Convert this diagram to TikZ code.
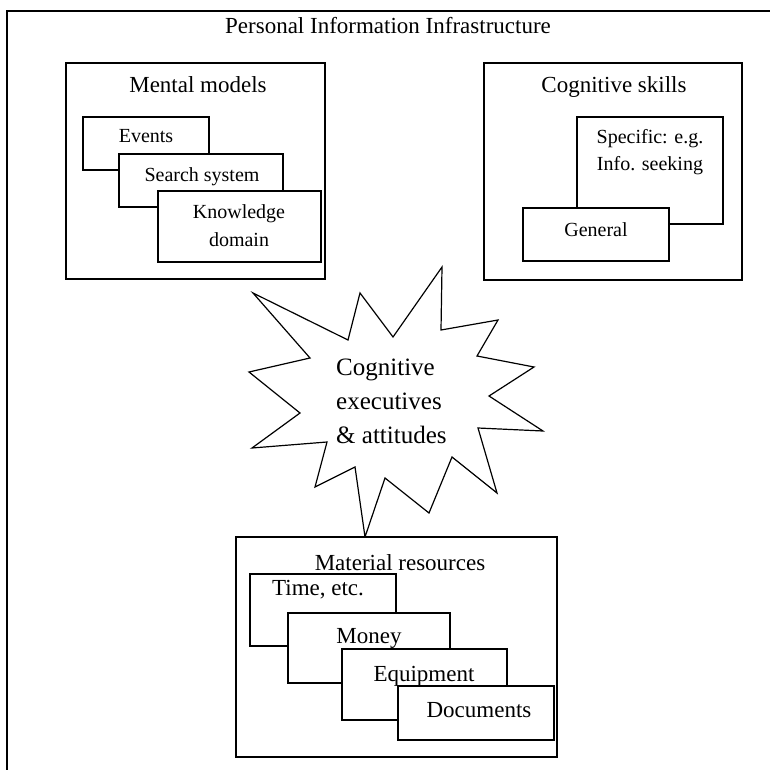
\documentclass[tikz,border=0pt]{standalone}
\usepackage{fontspec}
\setmainfont{Liberation Serif}

\tikzset{
  box/.style={draw, line width=1.3pt, fill=white},
  head/.style={anchor=base, font=\fontsize{23}{28}\selectfont},
  small/.style={anchor=base, font=\fontsize{20}{24}\selectfont},
  burst/.style={anchor=base west, font=\fontsize{25}{30}\selectfont},
}

\begin{document}
\begin{tikzpicture}[x=1pt, y=-1pt, inner sep=0pt]
\useasboundingbox (0,0) rectangle (770,770);

% outer frame
\draw[line width=1.3pt] (770,11) -- (7,11) -- (7,770);
\node[head] (title) at (388,34) {Personal Information Infrastructure};

% mental models
\draw[box] (66,63) rectangle (325,279);
\node[head] (mental) at (198,93) {Mental models};
\draw[box] (83,117) rectangle (209,170);
\node[small] (events) at (146,143) {Events};
\draw[box] (119,154) rectangle (283,207);
\node[small] (search) at (202,182) {Search system};
\draw[box] (158,191) rectangle (321,262);
\node[small] (know1) at (239,218) {Knowledge};
\node[small] (know2) at (239,246) {domain};

% cognitive skills
\draw[box] (484,63) rectangle (742,280);
\node[head] (skills) at (614,93) {Cognitive skills};
\draw[box] (577,117) rectangle (723,224);
\node[small] (spec1) at (650,144) {Specific: e.g.};
\node[small] (spec2) at (650,171) {Info. seeking};
\draw[box] (523,208) rectangle (669,261);
\node[small] (general) at (596,236) {General};

% star
\coordinate (s1) at (253,293);
\coordinate (s2) at (348,340);
\coordinate (s3) at (360,293);
\coordinate (s4) at (393,337);
\coordinate (s5) at (442,267);
\coordinate (s6) at (441,330);
\coordinate (s7) at (498,320);
\coordinate (s8) at (477,356);
\coordinate (s9) at (534,367);
\coordinate (s10) at (489,396);
\coordinate (s11) at (543,431);
\coordinate (s12) at (478,428);
\coordinate (s13) at (497,493);
\coordinate (s14) at (452,457);
\coordinate (s15) at (429,513);
\coordinate (s16) at (385,478);
\coordinate (s17) at (365,537);
\coordinate (s18) at (355,467);
\coordinate (s19) at (315,487);
\coordinate (s20) at (327,442);
\coordinate (s21) at (252,448);
\coordinate (s22) at (300,413);
\coordinate (s23) at (249,372);
\coordinate (s24) at (310,358);

\draw[line width=1.2pt, line join=miter] (s1) -- (s2) -- (s3) -- (s4) -- (s5) -- (s6) -- (s7) -- (s8)
  -- (s9) -- (s10) -- (s11) -- (s12) -- (s13) -- (s14) -- (s15) -- (s16)
  -- (s17) -- (s18) -- (s19) -- (s20) -- (s21) -- (s22) -- (s23) -- (s24) -- cycle;
\node[burst] (exec1) at (336,375) {Cognitive};
\node[burst] (exec2) at (336,409) {executives};
\node[burst] (exec3) at (336,443) {\& attitudes};

% material resources
\draw[box] (236,537) rectangle (557,757);
\node[head] (material) at (400,570) {Material resources};
\draw[box] (250,574) rectangle (396,646);
\node[head] (time) at (318,595) {Time, etc.};
\draw[box] (288,613) rectangle (450,683);
\node[head] (money) at (369,643) {Money};
\draw[box] (342,649) rectangle (507,720);
\node[head] (equip) at (424,681) {Equipment};
\draw[box] (398,686) rectangle (554,740);
\node[head] (docs) at (479,717) {Documents};

\end{tikzpicture}
\end{document}
